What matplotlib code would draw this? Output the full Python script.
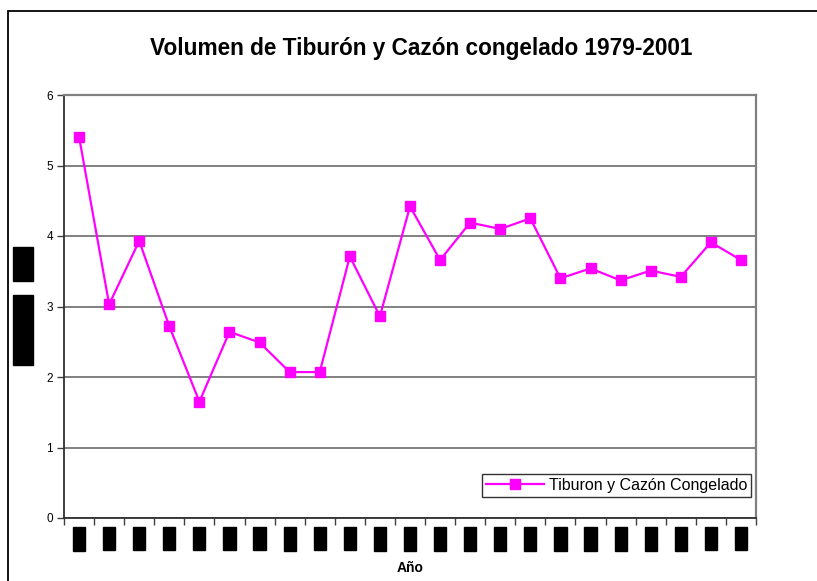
import matplotlib
matplotlib.use("Agg")
import matplotlib.pyplot as plt
from matplotlib.patches import Rectangle

years = [str(y) for y in range(1979, 2002)]
volumen = [5.41, 3.03, 3.93, 2.72, 1.65, 2.64, 2.49, 2.07, 2.07, 3.71, 2.86,
           4.42, 3.66, 4.19, 4.10, 4.25, 3.40, 3.54, 3.37, 3.51, 3.42, 3.91, 3.66]
y_ticks = [0, 1, 2, 3, 4, 5, 6]
title = "Volumen de Tiburón y Cazón congelado 1979-2001"
series_name = "Tiburon y Cazón Congelado"
x_label = "Año"
y_label_parts = ["Toneladas", "(mil)"]

plt.rcParams['font.family'] = ['Liberation Sans', 'DejaVu Sans']

W, H = 817, 581
fig = plt.figure(figsize=(W / 100, H / 100), dpi=100)
fig.patch.set_facecolor('white')

# outer chart frame (only top and left edges visible)
fig.patches.append(Rectangle((8 / W, -0.2), 1.5, (H - 11) / H + 0.2,
                             transform=fig.transFigure, fill=False,
                             edgecolor='black', lw=1.3))

ax = fig.add_axes([64 / W, 1 - 518 / H, (756 - 64) / W, (518 - 95) / H])
x = list(range(len(years)))
ax.plot(x, volumen, color='#FF00FF', lw=1.6, marker='s', markersize=7.5,
        markerfacecolor='#FF00FF', markeredgecolor='#FF00FF', label=series_name,
        zorder=3)

ax.set_xlim(-0.5, len(years) - 0.5)
ax.set_ylim(0, 6)
ax.set_yticks(y_ticks)
ax.set_yticklabels([str(v) for v in y_ticks], fontsize=8.5)
ax.yaxis.grid(True, color='#808080', lw=1.4)
ax.set_axisbelow(True)

# major ticks at category boundaries, labels at centers
ax.set_xticks([i - 0.5 for i in range(len(years) + 1)])
ax.set_xticklabels([])
ax.set_xticks(x, minor=True)
ax.set_xticklabels(years, minor=True, rotation=90, fontsize=7, color='black',
                   bbox=dict(facecolor='black', edgecolor='black', pad=0.8))
ax.tick_params(axis='x', which='minor', length=0, pad=7)
ax.tick_params(axis='x', which='major', length=5, width=1, color='#404040', direction='out')
ax.tick_params(axis='y', length=5, width=1, color='#404040', direction='out', pad=3)

for s in ['top', 'right']:
    ax.spines[s].set_color('#808080')
    ax.spines[s].set_linewidth(1.6)
for s in ['left', 'bottom']:
    ax.spines[s].set_color('#303030')
    ax.spines[s].set_linewidth(1.3)

fig.text(421 / W, 1 - 48 / H, title, ha='center', va='center',
         fontsize=16.3, fontweight='bold')
fig.text(410 / W, 1 - 568 / H, x_label, ha='center', va='center',
         fontsize=10, fontweight='bold')

# y label (two words)
fig.text(23 / W, 1 - 330 / H, y_label_parts[0], rotation=90, ha='center', va='center',
         fontsize=10, color='black',
         bbox=dict(facecolor='black', edgecolor='black', pad=2.5))
fig.text(23 / W, 1 - 264 / H, y_label_parts[1], rotation=90, ha='center', va='center',
         fontsize=10, color='black',
         bbox=dict(facecolor='black', edgecolor='black', pad=2.5))

leg = ax.legend(loc='lower right', bbox_to_anchor=(751 / W, 1 - 497 / H),
                bbox_transform=fig.transFigure, fontsize=11.5, frameon=True,
                fancybox=False, borderpad=0.25, handlelength=3.6,
                handletextpad=0.3, borderaxespad=0)
leg.get_frame().set_edgecolor('black')
leg.get_frame().set_linewidth(1.0)

fig.savefig('out.png', dpi=100)
